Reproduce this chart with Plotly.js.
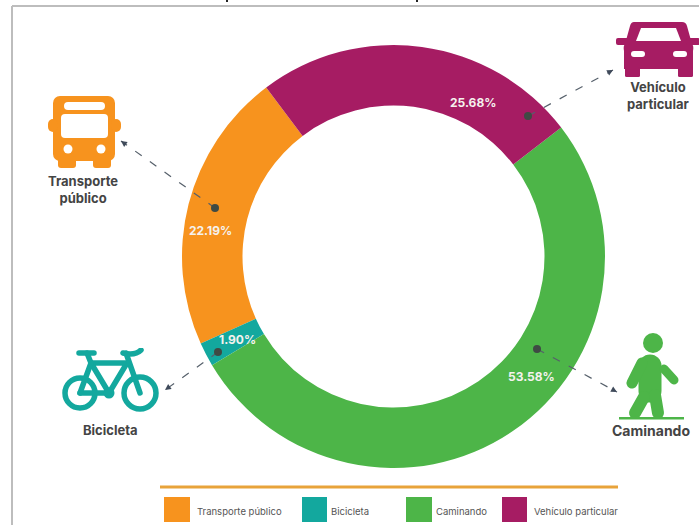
<!DOCTYPE html>
<html><head><meta charset="utf-8">
<script src="https://cdn.plot.ly/plotly-3.0.1.min.js"></script>
<style>html,body{margin:0;padding:0;background:#fff}#c{width:699px;height:525px}</style>
</head><body><div id="c"></div>
<script>
const categories = ["Transporte público", "Bicicleta", "Caminando", "Vehículo particular"];
const values = [22.19, 1.90, 53.58, 25.68];
const colors = ["#F7931E", "#13A89E", "#4DB548", "#A61C63"];
const W = 699, H = 525;
const px = x => x / W, py = y => 1 - y / H;
const FONT = "Inter, 'Open Sans', sans-serif";

// value label positions, in the picture's pixels
const labelPos = [[211,230],[237,339],[531,376],[473,102]];
// callouts: dot -> arrow tip
const callouts = [
  [[215,208],[121,141]],
  [[218,352],[165,390]],
  [[537,349],[617,392]],
  [[528,116],[613,70]]
];
const legendX = [[164,190,195],[302,327,329],[406,432,434],[502,527,532]];

const iconLabels = [
  {t:"Transporte<br>público", x:83, y:189, s:13},
  {t:"Bicicleta", x:110, y:430, s:13},
  {t:"Caminando", x:651, y:430, s:14},
  {t:"Vehículo<br>particular", x:658, y:96, s:13}
];

function svgUri(w,h,body){
  return "data:image/svg+xml;charset=utf-8," + encodeURIComponent(
   `<svg xmlns="http://www.w3.org/2000/svg" width="${w}" height="${h}" viewBox="0 0 ${w} ${h}">${body}</svg>`);
}
function img(src,x,y,w,h){
  return {source:src,xref:"paper",yref:"paper",x:px(x),y:py(y),sizex:w/W,sizey:h/H,
          xanchor:"left",yanchor:"top",sizing:"stretch",layer:"above"};
}
const busSvg = svgUri(76,76,`
 <rect x="5" y="0" width="62" height="65" rx="7" fill="${colors[0]}"/>
 <rect x="0" y="23" width="10" height="13" rx="5" fill="${colors[0]}"/>
 <rect x="63" y="23" width="10" height="13" rx="5" fill="${colors[0]}"/>
 <rect x="10" y="60" width="18" height="12" rx="3" fill="${colors[0]}"/>
 <rect x="45" y="60" width="18" height="12" rx="3" fill="${colors[0]}"/>
 <rect x="16" y="6" width="41" height="8" rx="4" fill="#fff"/>
 <rect x="13" y="18" width="47" height="24" rx="4" fill="#fff"/>
 <circle cx="20" cy="53" r="4.5" fill="#fff"/><circle cx="53" cy="53" r="4.5" fill="#fff"/>`);
const carSvg = svgUri(84,60,`
 <path d="M18 1 H66 Q70 1 71 5 L76 23 Q78 25 77 30 V48 H8 V30 Q7 25 9 23 L14 5 Q15 1 18 1 Z" fill="${colors[3]}"/>
 <rect x="0" y="17" width="14" height="7" rx="2" fill="${colors[3]}"/>
 <rect x="70" y="17" width="14" height="7" rx="2" fill="${colors[3]}"/>
 <rect x="9" y="46" width="15" height="10" rx="1.5" fill="${colors[3]}"/>
 <rect x="62" y="46" width="15" height="10" rx="1.5" fill="${colors[3]}"/>
 <path d="M25 7 H60 L65 20 H20 Z" fill="#fff"/>
 <rect x="15" y="30" width="14" height="6" rx="3" fill="#fff"/>
 <rect x="57" y="30" width="14" height="6" rx="3" fill="#fff"/>`);
const bikeSvg = svgUri(100,66,`
 <g fill="none" stroke="${colors[1]}" stroke-width="5.5" stroke-linecap="round" stroke-linejoin="round">
 <circle cx="19" cy="45" r="15"/><circle cx="79" cy="45" r="16"/>
 <path d="M19 45 H48 L66 15 H30 L48 45"/>
 <path d="M19 45 L30 15 L26 5"/><path d="M18 5 H33"/>
 <path d="M79 45 L65 5"/><path d="M62 5 Q74 8 80 2"/></g>
 <circle cx="48" cy="45" r="5.5" fill="${colors[1]}"/>`);
const walkSvg = svgUri(70,90,`
 <circle cx="35" cy="10" r="10" fill="${colors[2]}"/>
 <g fill="none" stroke="${colors[2]}" stroke-linecap="round" stroke-linejoin="round">
 <path d="M32 33 L32 58" stroke-width="23"/>
 <path d="M24 30 L14 50" stroke-width="11"/>
 <path d="M46 36 L56 47" stroke-width="9"/>
 <path d="M26 64 L17 80" stroke-width="12"/>
 <path d="M37 62 L40 80" stroke-width="12"/></g>
 <rect x="1" y="84" width="65" height="2.5" fill="${colors[2]}"/>`);

const images = [
  img(busSvg,48,96,76,76),
  img(carSvg,616,21,84,60),
  img(bikeSvg,61,348,100,66),
  img(walkSvg,618,333,70,90)
];

const shapes = [
  {type:"line",xref:"paper",yref:"paper",x0:px(12),y0:py(525),x1:px(12),y1:py(6),line:{color:"#BDBDBD",width:2}},
  {type:"line",xref:"paper",yref:"paper",x0:px(12),y0:py(6),x1:px(699),y1:py(6),line:{color:"#BDBDBD",width:2}},
  {type:"line",xref:"paper",yref:"paper",x0:px(160),y0:py(487),x1:px(618),y1:py(487),line:{color:"#E8A33A",width:3}},
  {type:"rect",xref:"paper",yref:"paper",x0:px(226),x1:px(228),y0:py(0),y1:py(2),fillcolor:"#222",line:{width:0}},
  {type:"rect",xref:"paper",yref:"paper",x0:px(416),x1:px(418),y0:py(0),y1:py(2),fillcolor:"#222",line:{width:0}}
];
const annotations = [];

categories.forEach((c,i)=>{
  const [a,b] = callouts[i];
  shapes.push({type:"line",xref:"paper",yref:"paper",x0:px(a[0]),y0:py(a[1]),x1:px(b[0]),y1:py(b[1]),
    line:{color:"#56606B",width:1.2,dash:"8px 10px"},layer:"above"});
  shapes.push({type:"circle",xref:"paper",yref:"paper",x0:px(a[0]-4),y0:py(a[1]-4),x1:px(a[0]+4),y1:py(a[1]+4),
    fillcolor:"#3F4A44",line:{width:0},layer:"above"});
  const dx = b[0]-a[0], dy = b[1]-a[1], len = Math.hypot(dx,dy);
  annotations.push({xref:"paper",yref:"paper",x:px(b[0]),y:py(b[1]),text:"",showarrow:true,arrowhead:2,
    arrowsize:1,arrowwidth:1.2,arrowcolor:"#3F4A5A",axref:"pixel",ayref:"pixel",ax:-dx/len*7,ay:-dy/len*7});
  annotations.push({xref:"paper",yref:"paper",x:px(labelPos[i][0]),y:py(labelPos[i][1]),showarrow:false,
    xanchor:"center",yanchor:"middle",
    text:values[i].toFixed(2)+"%",font:{family:FONT,size:12,color:"#F5F2EE",weight:700}});
  const L = legendX[i];
  shapes.push({type:"rect",xref:"paper",yref:"paper",x0:px(L[0]),x1:px(L[1]),y0:py(497),y1:py(522),
    fillcolor:colors[i],line:{width:0}});
  annotations.push({xref:"paper",yref:"paper",x:px(L[2]),y:py(511),xanchor:"left",yanchor:"middle",showarrow:false,
    text:c,font:{family:FONT,size:9.5,color:"#555"}});
  const t = iconLabels[i];
  annotations.push({xref:"paper",yref:"paper",x:px(t.x),y:py(t.y),showarrow:false,text:t.t,
    xanchor:"center",yanchor:"middle",
    font:{family:FONT,size:t.s,color:"#444",weight:700}});
});

Plotly.newPlot("c",[{
  type:"pie",labels:categories,values:values,sort:false,direction:"counterclockwise",rotation:-114.3,
  hole:151/211.5,textinfo:"none",marker:{colors:colors,line:{width:0}},
  domain:{x:[px(182),px(605)],y:[py(468),py(45)]},showlegend:false
}],{
  width:W,height:H,margin:{l:0,r:0,t:0,b:0,pad:0},paper_bgcolor:"#fff",plot_bgcolor:"#fff",
  showlegend:false,shapes,annotations,images
},{displayModeBar:false,staticPlot:true});
</script></body></html>
